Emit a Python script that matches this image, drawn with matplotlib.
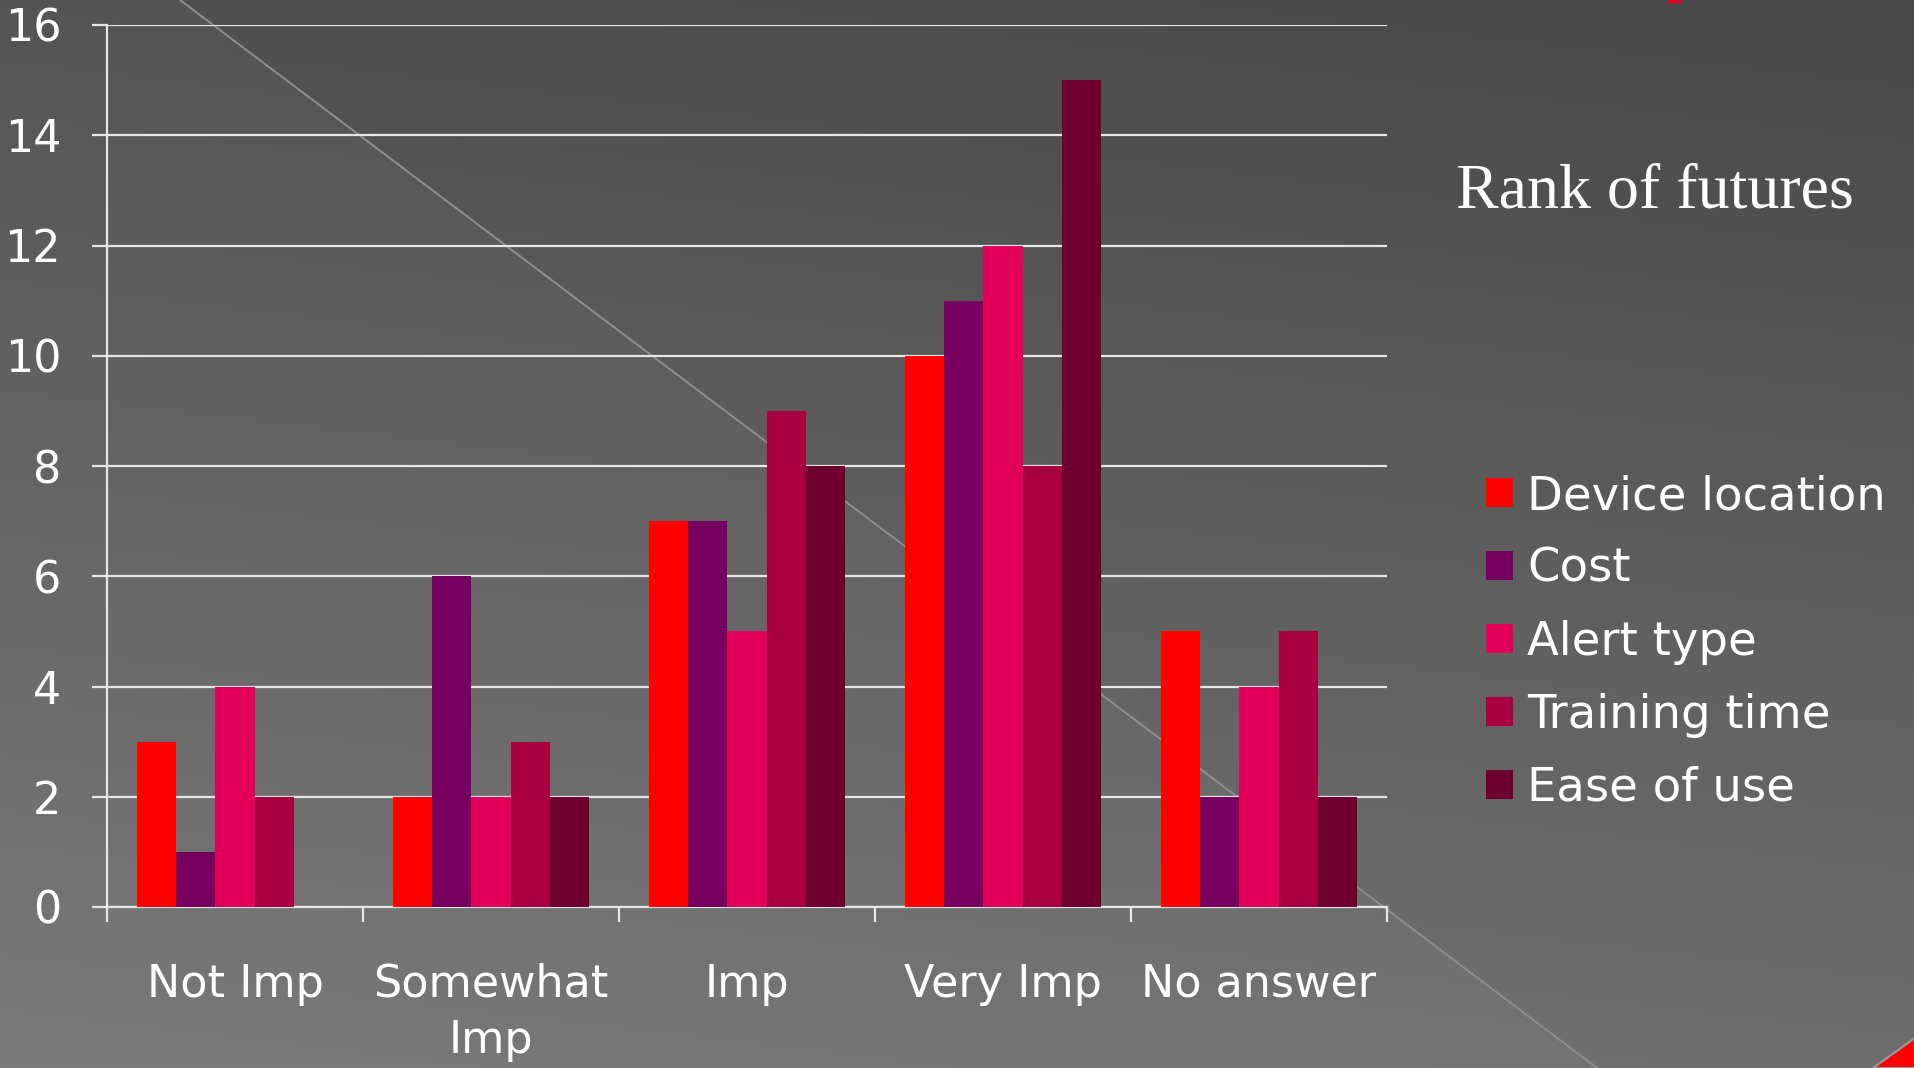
import matplotlib.pyplot as plt
import numpy as np
from matplotlib.patches import Polygon, Rectangle

categories = ['Not Imp', 'Somewhat\nImp', 'Imp', 'Very Imp', 'No answer']
series_names = ['Device location', 'Cost', 'Alert type', 'Training time', 'Ease of use']
device_location = [3, 2, 7, 10, 5]
cost = [1, 6, 7, 11, 2]
alert_type = [4, 2, 5, 12, 4]
training_time = [2, 3, 9, 8, 5]
ease_of_use = [0, 2, 8, 15, 2]
colors = ['#ff0000', '#760060', '#e2005a', '#a8003f', '#6e0030']
yticks = [0, 2, 4, 6, 8, 10, 12, 14, 16]

series = [device_location, cost, alert_type, training_time, ease_of_use]

W, H = 1915, 1068
fig = plt.figure(figsize=(W / 100, H / 100), dpi=100)

# slide background: soft gradient with a thin diagonal line
bg = fig.add_axes([0, 0, 1, 1], zorder=-10)
yy, xx = np.mgrid[0:1:200j, 0:1:300j]
val = 80 + 38 * yy - 8 * xx
# lighter area below-left of the diagonal
line_x = (180 + (1597 - 180) * yy) / W
val = val + 4 * (xx < line_x)
img = np.dstack([val, val, val]) / 255.0
bg.imshow(img, extent=[0, W, H, 0], aspect='auto', interpolation='bilinear')
bg.plot([180, 1597], [0, H], color='#8e8e8e', lw=1.4)
bg.add_patch(Polygon([[1873, H], [W, 1038], [W, H]], closed=True,
                     facecolor='#ff0000', edgecolor='#9a9a9a', lw=1.5))
bg.add_patch(Rectangle((1668, 0), 14, 3, facecolor='#e8002a'))
bg.set_xlim(0, W)
bg.set_ylim(H, 0)
bg.axis('off')

ax = fig.add_axes([107 / W, 1 - 907 / H, (1387 - 107) / W, (907 - 25) / H])
ax.patch.set_alpha(0)

x = np.arange(len(categories))
bw = 0.1535
for i, (vals, c, name) in enumerate(zip(series, colors, series_names)):
    ax.bar(x + (i - 2) * bw, vals, width=bw, color=c, label=name, zorder=3)

ax.set_xlim(-0.5, 4.5)
ax.set_ylim(0, 16)
ax.set_yticks(yticks)
ax.set_yticklabels([str(t) for t in yticks])
ax.yaxis.grid(True, color='#e6e6e6', lw=1.6, zorder=1)
ax.set_axisbelow(True)

# ticks between groups, labels at group centres
ax.set_xticks(np.arange(-0.5, 5, 1))
ax.set_xticklabels([])
ax.set_xticks(x, minor=True)
ax.set_xticklabels(categories, minor=True)

font = 'DejaVu Sans'
fs = 32
ax.tick_params(axis='x', which='major', length=11, width=1.6, color='#e6e6e6', direction='out')
ax.tick_params(axis='x', which='minor', length=0, pad=40, labelsize=fs, labelcolor='white')
ax.tick_params(axis='y', length=11, width=1.6, color='#e6e6e6', pad=22, labelsize=fs, labelcolor='white')
for lbl in ax.get_xticklabels(minor=True) + ax.get_yticklabels():
    lbl.set_fontfamily(font)
    lbl.set_linespacing(1.4)

for s in ['top', 'right']:
    ax.spines[s].set_visible(False)
ax.spines['left'].set_color('#e6e6e6')
ax.spines['left'].set_linewidth(1.6)
ax.spines['bottom'].set_color('#e6e6e6')
ax.spines['bottom'].set_linewidth(1.6)

fig.text(1456 / W, 1 - 208 / H, 'Rank of futures', family='Liberation Serif',
         fontsize=46, color='white', va='baseline', ha='left')

leg = fig.legend(loc='upper left', bbox_to_anchor=(1486 / W, 1 - 474 / H),
                 frameon=False, prop={'family': font, 'size': 33.5},
                 handlelength=0.58, handleheight=0.58, handletextpad=0.3,
                 labelspacing=0.6, borderaxespad=0, borderpad=0)
for t in leg.get_texts():
    t.set_color('white')

fig.savefig('out.png', dpi=100)
